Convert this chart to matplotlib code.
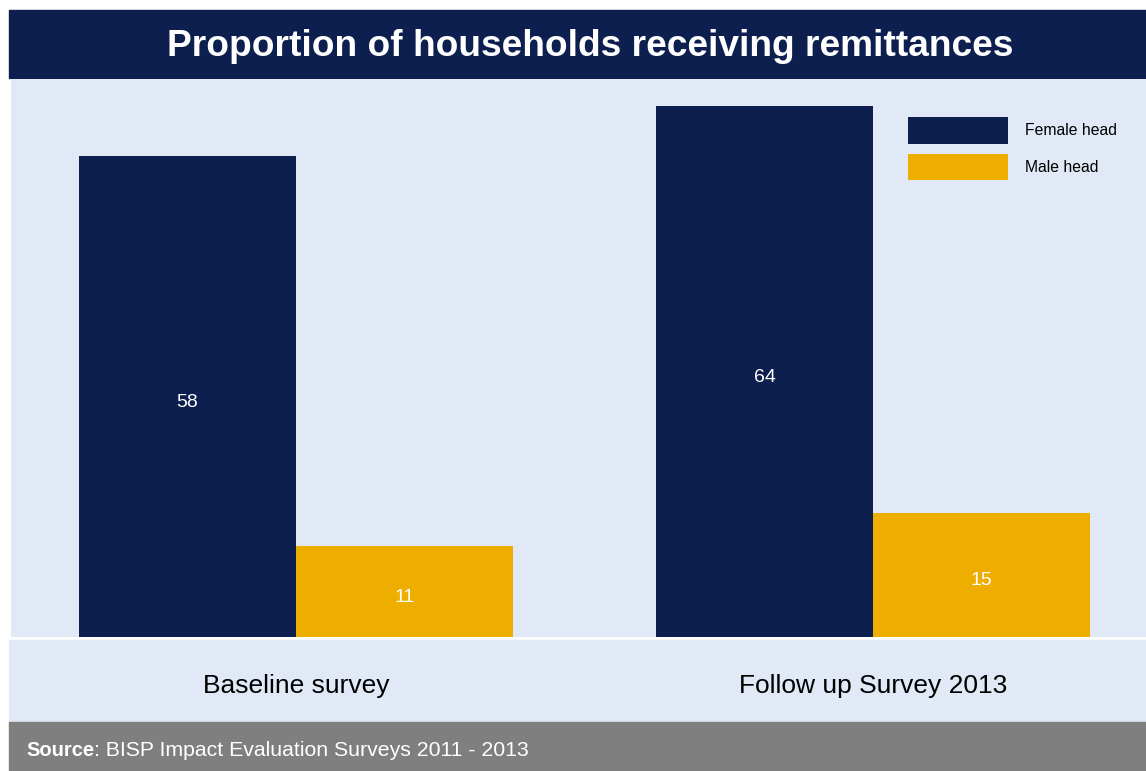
import matplotlib
matplotlib.use("Agg")
import matplotlib.pyplot as plt
from matplotlib.patches import Rectangle
import numpy as np

plt.rcParams['font.family'] = ['Liberation Sans', 'DejaVu Sans']

# data
categories = ["Baseline survey", "Follow up Survey 2013"]
female_head = [58, 64]
male_head = [11, 15]
series_names = ["Female head", "Male head"]

NAVY = "#0D1F4F"
GOLD = "#EDAE00"
BG = "#E1E9F6"
GREY = "#7F7F7F"

W, H = 1146, 771
fig = plt.figure(figsize=(W / 100, H / 100), dpi=100)
fig.patch.set_facecolor("white")

def fx(px):
    return px / W

def fy(py):
    return 1 - py / H

# title bar, lower band, footer (behind the axes)
for top, bottom, col in [(10, 78, NAVY), (640, 722, BG), (722, H, GREY)]:
    fig.patches.append(Rectangle((fx(9), fy(bottom)), fx(W - 9), (bottom - top) / H,
                                 transform=fig.transFigure, color=col, zorder=-5))

fig.text(fx(590), fy(46), "Proportion of households receiving remittances",
         color="white", fontsize=26.7, fontweight="bold", ha="center", va="center")

ax = fig.add_axes([fx(11), fy(637), fx(W - 11), (637 - 79) / H])
ax.set_facecolor(BG)

x = np.arange(len(categories))
w = 0.376
b1 = ax.bar(x - w / 2, female_head, w, color=NAVY, label=series_names[0])
b2 = ax.bar(x + w / 2, male_head, w, color=GOLD, label=series_names[1])

# value labels, baseline a little below the bar middle
for bars in (b1, b2):
    for r in bars:
        v = r.get_height()
        ax.annotate("%d" % v, (r.get_x() + r.get_width() / 2, v / 2),
                    xytext=(0, -7.5), textcoords="offset points",
                    ha="center", va="baseline", color="white", fontsize=14)

ax.set_xlim(-0.494, 1.473)
ax.set_ylim(0, 67.3)
ax.set_yticks([])
ax.set_xticks(x)
ax.set_xticklabels(categories, fontsize=19)
ax.tick_params(axis="x", length=0, pad=26.5)
for s in ax.spines.values():
    s.set_visible(False)

ax.legend(loc="upper left", bbox_to_anchor=(fx(908), fy(117)),
          bbox_transform=fig.transFigure, frameon=False, fontsize=11.3,
          handlelength=6.37, handleheight=2.25, labelspacing=0.63,
          handletextpad=1.08, borderpad=0, borderaxespad=0)

# footer: bold "Source" then the rest
t1 = fig.text(fx(26), fy(750), "Source", color="white", fontsize=14.5,
              fontweight="bold", va="center", ha="left")
fig.canvas.draw()
bb = t1.get_window_extent()
fig.text(bb.x1 / W, fy(750), ": BISP Impact Evaluation Surveys 2011 - 2013",
         color="white", fontsize=15.3, va="center", ha="left")

fig.savefig("out.png", dpi=100, facecolor=fig.get_facecolor())
